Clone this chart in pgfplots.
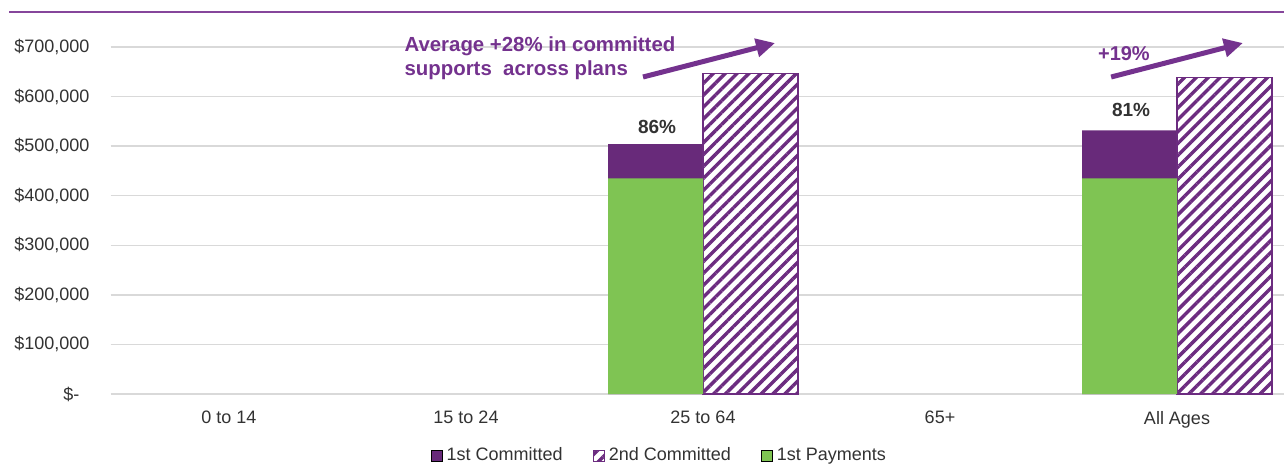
\documentclass[border=0pt]{standalone}
\usepackage{pgfplots}
\pgfplotsset{compat=1.18}
\usepackage{fontspec}
\setmainfont{Liberation Sans}
\usetikzlibrary{patterns.meta,arrows.meta}
\definecolor{barpurple}{RGB}{104,42,122}
\definecolor{hatchpurple}{RGB}{108,44,128}
\definecolor{bargreen}{RGB}{127,196,83}
\definecolor{notepurple}{RGB}{116,50,142}
\definecolor{linepurple}{RGB}{134,70,155}
\definecolor{gridgray}{RGB}{217,217,217}
\definecolor{txt}{RGB}{50,50,50}
\begin{document}
\begin{tikzpicture}
\begin{axis}[
  at={(55.25pt,36pt)}, anchor=south west,
  scale only axis, width=592.5pt, height=173.5pt,
  xmin=-0.5, xmax=4.5, ymin=0, ymax=700000,
  clip=false,
  scaled y ticks=false,
  axis line style={draw=none},
  tick style={draw=none}, major tick length=0pt,
  ymajorgrids, grid style={gridgray, line width=0.7pt},
  ytick={0,100000,200000,300000,400000,500000,600000,700000},
  yticklabels={{\$-\hphantom{0}},{\$100,000},{\$200,000},{\$300,000},{\$400,000},{\$500,000},{\$600,000},{\$700,000}},
  xtick={0,1,2,3,4},
  xticklabels={0 to 14,15 to 24,25 to 64,65+,All Ages},
  ticklabel style={font=\fontsize{9}{11}\selectfont, text=txt},
  yticklabel style={xshift=-7pt},
  xticklabel style={yshift=-5pt},
  ybar, bar width=47.5pt,
  legend columns=3,
  legend image code/.code={\draw[#1] (0pt,-2.75pt) rectangle (5.5pt,2.75pt);},
  legend style={at={(axis cs:1.82,-125000)}, anchor=center, draw=none, fill=none,
    font=\fontsize{9}{11}\selectfont, text=txt,
    /tikz/every even column/.append style={column sep=13pt}},
]
\addplot[fill=barpurple, draw=none, bar shift=-23.75pt] coordinates {(2,504000) (4,532000)};
\addlegendentry{1st Committed}
\addplot[fill=white, draw=hatchpurple, line width=0.6pt,
  postaction={pattern={Lines[angle=45,distance=4.2pt,line width=1.7pt]}, pattern color=hatchpurple},
  bar shift=23.75pt] coordinates {(2,647000) (4,639000)};
\addlegendentry{2nd Committed}
\addplot[fill=bargreen, draw=none, bar shift=-23.75pt] coordinates {(2,435000) (4,435000)};
\addlegendentry{1st Payments}

\node[anchor=west, align=left, font=\bfseries\fontsize{10.2}{12}\selectfont, text=notepurple]
  at (axis cs:0.711,678000) {Average +28\% in committed\\supports\ \ across plans};
\node[font=\bfseries\fontsize{9.5}{11}\selectfont, text=txt] at (axis cs:1.806,538600) {86\%};
\node[font=\bfseries\fontsize{9.5}{11}\selectfont, text=txt] at (axis cs:3.806,573000) {81\%};
\node[font=\bfseries\fontsize{10}{12}\selectfont, text=notepurple] at (axis cs:3.776,686000) {+19\%};
\draw[notepurple, line width=2.5pt, -{Triangle[length=9.5pt,width=9pt]}]
  (axis cs:1.747,639500) -- (axis cs:2.304,708000);
\draw[notepurple, line width=2.5pt, -{Triangle[length=9.5pt,width=9pt]}]
  (axis cs:3.722,639500) -- (axis cs:4.278,708000);
\end{axis}
\draw[linepurple, line width=1pt] (4.5pt,227pt) -- (642pt,227pt);
\pgfresetboundingbox
\useasboundingbox (0,0) rectangle (642pt,233pt);
\end{tikzpicture}
\end{document}
